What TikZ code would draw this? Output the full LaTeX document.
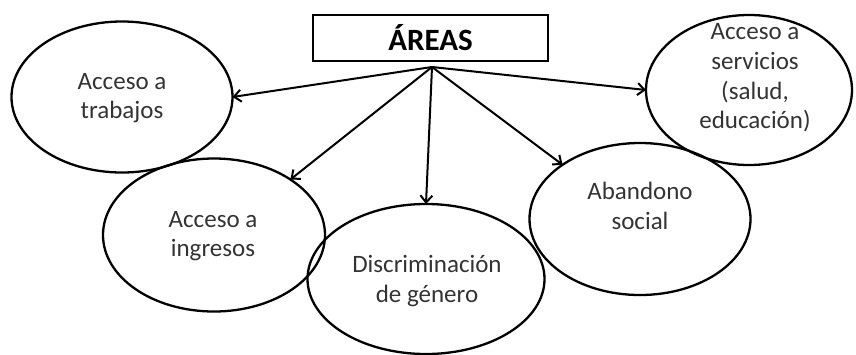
\documentclass[tikz,border=0pt]{standalone}
\usepackage{fontspec}
\setmainfont{Carlito}
\usetikzlibrary{shapes.geometric,arrows.meta}
\tikzset{
  area/.style={draw=black, line width=2.3pt, ellipse, inner sep=0pt, outer sep=0pt},
  lbl/.style={align=center, font=\fontsize{25}{29.6}\selectfont, text=black!80},
  titlebox/.style={draw=black, line width=2.3pt, minimum width=235pt, minimum height=46pt, inner sep=0pt, font=\fontsize{31}{36}\bfseries\selectfont},
  conn/.style={line width=2pt, -{Straight Barb[length=7pt,width=12pt,line width=2pt]}}
}
\begin{document}
\begin{tikzpicture}[x=1pt,y=-1pt]
\useasboundingbox (0,0) rectangle (856,354);
\node[titlebox] (t) at (430.5,38) {ÁREAS};
\coordinate (o) at (432,67);
\node[area, minimum width=221pt, minimum height=151pt] (trab) at (122,97) {};
\node[area, minimum width=206pt, minimum height=150pt] (serv) at (749,90) {};
\node[area, minimum width=222pt, minimum height=153pt] (ing) at (214,235) {};
\node[area, minimum width=237pt, minimum height=150pt] (disc) at (426,279) {};
\node[area, minimum width=221pt, minimum height=152pt] (aban) at (640,219) {};
\node[lbl] (trabt) at (122,98) {Acceso a\\trabajos};
\node[lbl] (servt) at (755,78) {Acceso a\\servicios\\(salud,\\educación)};
\node[lbl] (ingt) at (213,236) {Acceso a\\ingresos};
\node[lbl] (disct) at (427,281) {Discriminación\\de género};
\node[lbl] (abant) at (640,206) {Abandono\\social};
\draw[conn] (o) -- (trab.east);
\draw[conn] (o) -- (ing.36);
\draw[conn] (o) -- (disc.north);
\draw[conn] (o) -- (aban.145);
\draw[conn] (o) -- (serv.west);
\end{tikzpicture}
\end{document}
